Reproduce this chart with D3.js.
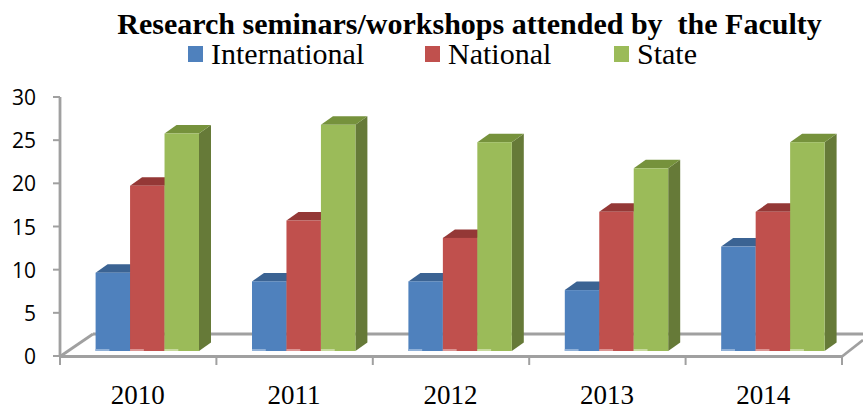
<!DOCTYPE html>
<html><head><meta charset="utf-8">
<script src="https://cdn.jsdelivr.net/npm/d3@7"></script>
<style>html,body{margin:0;padding:0;background:#fff}svg{display:block}</style>
</head><body><svg id="c" width="863" height="407"></svg>
<script>
const categories = ["2010","2011","2012","2013","2014"];
const seriesNames = ["International","National","State"];
const international = [9,8,8,7,12];
const national = [19,15,13,16,16];
const state = [25,26,24,21,24];
const yTicks = [0,5,10,15,20,25,30];
const titleText = "Research seminars/workshops attended by  the Faculty";
const faceColors = ["#4f81bd","#c0504d","#9bbb59"];
const topColors = ["#3b6393","#943836","#76923c"];
const sideColors = ["#385d8a","#8c3836","#667a38"];
const lightColors = ["#8fb0d8","#dc9492","#c6d99b"];
const legendSwatchX = [188,425,614];

const values = [international, national, state];
const svg = d3.select("#c");
const serif = "'Liberation Serif','Times New Roman',serif";
const sans = "'Open Sans','Liberation Sans',sans-serif";
const grey = "#a0a0a0";

const x0 = d3.scaleBand().domain(categories).range([60,842]);
const x1 = d3.scaleBand().domain(seriesNames).range([35.6,139]);
const yBar = d3.scaleLinear().domain([0,30]).range([351,90]);
const yAxis = d3.scaleLinear().domain([0,30]).range([356,97]);
const dx = 12, dy = 8.5;

// floor
const floorLines = [[60,356.5,842,356.5],[842,356.5,863,340],[60,356.5,93,334],[93,334,863,334],[60,97,60,356]];
svg.selectAll("line.floor").data(floorLines).join("line").attr("class","floor")
  .attr("x1",d=>d[0]).attr("y1",d=>d[1]).attr("x2",d=>d[2]).attr("y2",d=>d[3])
  .attr("stroke",grey).attr("stroke-width",2.8);

// y ticks
const yG = svg.append("g");
yG.selectAll("line").data(yTicks).join("line")
  .attr("x1",53).attr("x2",60).attr("y1",d=>yAxis(d)).attr("y2",d=>yAxis(d))
  .attr("stroke",grey).attr("stroke-width",2);
yG.selectAll("text").data(yTicks).join("text")
  .attr("x",36).attr("y",d=>yAxis(d)+8).attr("text-anchor","end")
  .attr("font-family",sans).attr("font-size",21).attr("fill","#000").text(d=>d);

// x ticks and labels
const xTickPos = categories.map(c=>x0(c)).concat([842]);
svg.append("g").selectAll("line").data(xTickPos).join("line")
  .attr("x1",d=>d).attr("x2",d=>d).attr("y1",356).attr("y2",365)
  .attr("stroke",grey).attr("stroke-width",2);
svg.append("g").selectAll("text").data(categories).join("text")
  .attr("x",d=>x0(d)+x0.bandwidth()/2-0.5).attr("y",404).attr("text-anchor","middle")
  .attr("font-family",serif).attr("font-size",27).attr("fill","#000").text(d=>d);

// bars, back to front, left to right
categories.forEach((c,ci)=>{
  const g = svg.append("g");
  seriesNames.forEach((s,si)=>{
    const v = values[si][ci];
    const l = x0(c)+x1(s), w = x1.bandwidth(), r = l+w, t = yBar(v), b = yBar(0);
    g.append("polygon").attr("fill",sideColors[si])
      .attr("points",[[r,t],[r+dx,t-dy],[r+dx,b-dy],[r,b]].join(" "));
    g.append("polygon").attr("fill",topColors[si])
      .attr("points",[[l,t],[l+dx,t-dy],[r+dx,t-dy],[r,t]].join(" "));
  });
  seriesNames.forEach((s,si)=>{
    const v = values[si][ci];
    const l = x0(c)+x1(s), w = x1.bandwidth(), t = yBar(v), b = yBar(0);
    g.append("rect").attr("x",l).attr("y",t).attr("width",w).attr("height",b-t).attr("fill",faceColors[si]);
    g.append("rect").attr("x",l).attr("y",b-2).attr("width",w*0.4).attr("height",2).attr("fill",lightColors[si]);
  });
});

// title and legend
svg.append("text").attr("x",469.5).attr("y",34).attr("text-anchor","middle")
  .attr("font-family",serif).attr("font-weight","bold").attr("font-size",30).attr("fill","#000")
  .style("white-space","pre").text(titleText);
const leg = svg.append("g");
leg.selectAll("rect").data(seriesNames).join("rect")
  .attr("x",(d,i)=>legendSwatchX[i]).attr("y",46).attr("width",15).attr("height",16)
  .attr("fill",(d,i)=>faceColors[i]);
leg.selectAll("text").data(seriesNames).join("text")
  .attr("x",(d,i)=>legendSwatchX[i]+23).attr("y",63.5)
  .attr("font-family",serif).attr("font-size",30).attr("fill","#000").text(d=>d);
</script></body></html>
